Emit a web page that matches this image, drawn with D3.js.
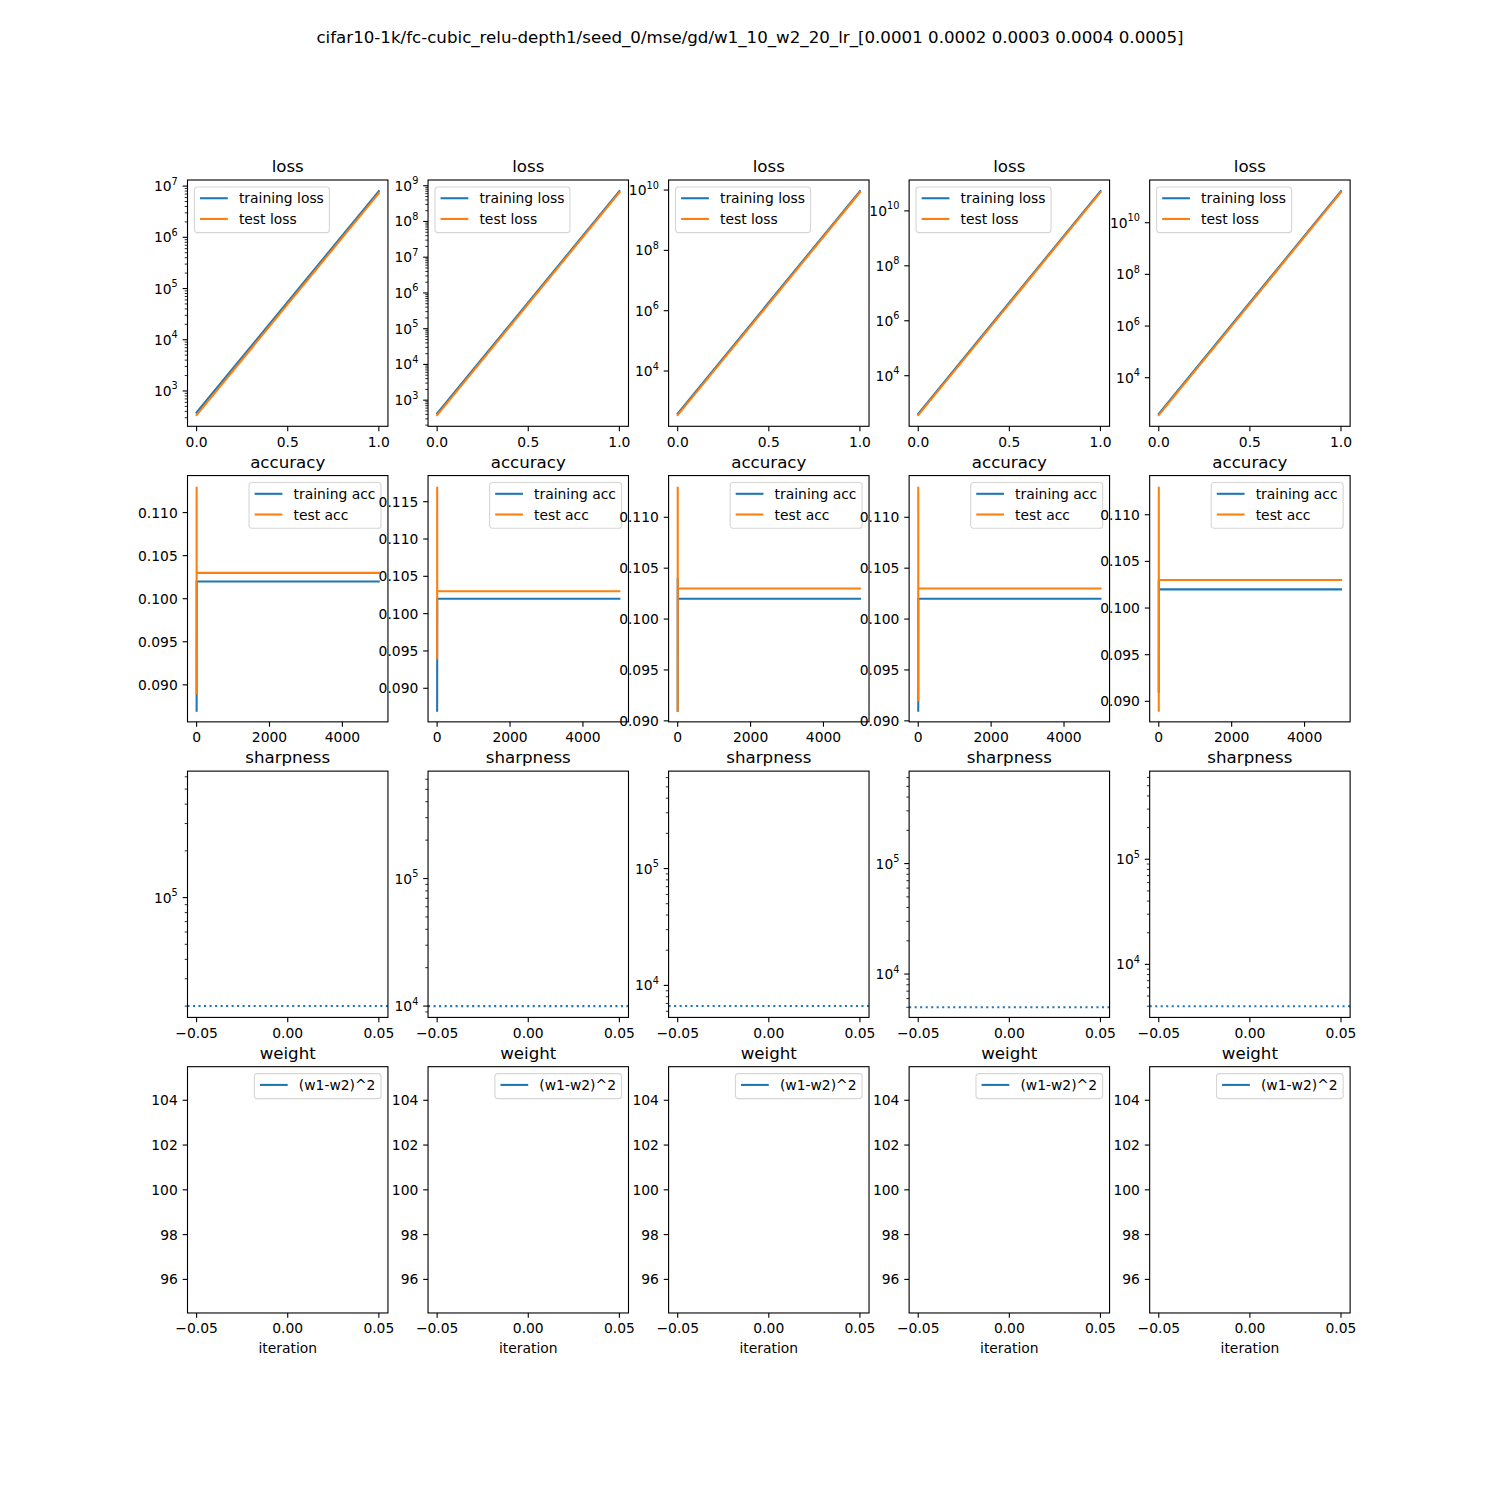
<!DOCTYPE html>
<html><head><meta charset="utf-8">
<script src="https://cdn.jsdelivr.net/npm/d3@7"></script>
<style>
body{margin:0;background:#fff}
svg{display:block}
text{font-family:"DejaVu Sans",sans-serif;fill:#000}
</style>
</head><body>
<svg id="c" width="1500" height="1500"></svg>
<script>
// ---------------- data ----------------
const suptitle = "cifar10-1k/fc-cubic_relu-depth1/seed_0/mse/gd/w1_10_w2_20_lr_[0.0001 0.0002 0.0003 0.0004 0.0005]";
const learningRates = [0.0001, 0.0002, 0.0003, 0.0004, 0.0005];

const lossIter = [0, 1];
const trainLoss = [[380, 7.95e6], [425, 7.03e8], [385, 9.16e9], [410, 5.2e10], [400, 1.66e11]];
const testLoss  = [[338, 7.3e6],  [382, 6.5e8],  [345, 8.4e9],  [368, 4.8e10], [357, 1.53e11]];

const accIter = [0, 1, 2, 5000];
const trainAcc = [
  [0.087, 0.089, 0.102, 0.102],
  [0.087, 0.094, 0.102, 0.102],
  [0.091, 0.104, 0.102, 0.102],
  [0.091, 0.092, 0.102, 0.102],
  [0.091, 0.103, 0.102, 0.102]
];
const testAcc = [
  [0.089, 0.113, 0.103, 0.103],
  [0.094, 0.117, 0.103, 0.103],
  [0.091, 0.113, 0.103, 0.103],
  [0.092, 0.113, 0.103, 0.103],
  [0.089, 0.113, 0.103, 0.103]
];

const sharpnessThreshold = [20000, 10000, 6667, 5000, 4000];   // 2 / lr
const sharpnessLimits = [[16900, 6.53e5], [8150, 6.95e5], [5320, 6.82e5], [4050, 6.87e5], [3130, 6.89e5]];

const weightIter = [0];
const weightDist = [[100], [100], [100], [100], [100]];

const rowTitles = ["loss", "accuracy", "sharpness", "weight"];
const lossLabels = ["training loss", "test loss"];
const accLabels = ["training acc", "test acc"];
const weightLabels = ["(w1-w2)^2"];
const xLabel = "iteration";

// ---------------- layout ----------------
const BLUE = "#1f77b4", ORANGE = "#ff7f0e";
const FS = 13.89, TFS = 16.67;
const axW = 200.45, axGap = 40.09, axL0 = 187.5;
const axH = 246.3, axVGap = 49.26, axT0 = 180;
const MAJ = 4.86, MIN = 2.78, PAD = 4.86;

const svg = d3.select("#c");
svg.append("rect").attr("width", 1500).attr("height", 1500).attr("fill", "#fff");

svg.append("text").attr("x", 750).attr("y", 42.5).attr("text-anchor", "middle")
  .attr("font-size", TFS).text(suptitle);

const fmtMinus = s => s.replace(/^-/, "\u2212");

function logTicks(domain) {
  const lmin = Math.log10(domain[0]), lmax = Math.log10(domain[1]);
  const numdec = Math.floor(lmax) - Math.ceil(lmin);
  const stride = Math.max(Math.ceil(numdec / 6), 1);
  const major = [], minor = [];
  for (let e = Math.floor(lmin) - 1; e <= Math.ceil(lmax) + 1; e++) {
    if (e % stride === 0 && e >= lmin - 1e-9 && e <= lmax + 1e-9) major.push(e);
    if (stride === 1) {
      for (let s = 2; s <= 9; s++) {
        const v = s * Math.pow(10, e);
        if (v >= domain[0] && v <= domain[1]) minor.push(v);
      }
    }
  }
  return {major, minor};
}

let clipId = 0;
function makeAxes(col, row) {
  const x0 = axL0 + col * (axW + axGap), y0 = axT0 + row * (axH + axVGap);
  const g = svg.append("g").attr("transform", `translate(${x0},${y0})`);
  const id = "clip" + (clipId++);
  g.append("clipPath").attr("id", id).append("rect").attr("width", axW).attr("height", axH);
  const plot = g.append("g").attr("clip-path", `url(#${id})`);
  return {g, plot, x0, y0};
}

function drawFrame(ax) {
  ax.g.append("rect").attr("width", axW).attr("height", axH)
    .attr("fill", "none").attr("stroke", "#000").attr("stroke-width", 1.11);
}

function xAxis(ax, scale, ticks, fmt) {
  ticks.forEach(t => {
    const x = scale(t);
    ax.g.append("line").attr("x1", x).attr("x2", x).attr("y1", axH).attr("y2", axH + MAJ)
      .attr("stroke", "#000").attr("stroke-width", 1.11);
    ax.g.append("text").attr("x", x).attr("y", axH + 20.3).attr("text-anchor", "middle")
      .attr("font-size", FS).text(fmtMinus(fmt(t)));
  });
}

function yAxisLinear(ax, scale, ticks, fmt) {
  ticks.forEach(t => {
    const y = scale(t);
    ax.g.append("line").attr("x1", 0).attr("x2", -MAJ).attr("y1", y).attr("y2", y)
      .attr("stroke", "#000").attr("stroke-width", 1.11);
    ax.g.append("text").attr("x", -MAJ - PAD).attr("y", y + 5).attr("text-anchor", "end")
      .attr("font-size", FS).text(fmtMinus(fmt(t)));
  });
}

function yAxisLog(ax, scale) {
  const {major, minor} = logTicks(scale.domain());
  minor.forEach(v => {
    const y = scale(v);
    ax.g.append("line").attr("x1", 0).attr("x2", -MIN).attr("y1", y).attr("y2", y)
      .attr("stroke", "#000").attr("stroke-width", 0.83);
  });
  major.forEach(e => {
    const y = scale(Math.pow(10, e));
    ax.g.append("line").attr("x1", 0).attr("x2", -MAJ).attr("y1", y).attr("y2", y)
      .attr("stroke", "#000").attr("stroke-width", 1.11);
    const t = ax.g.append("text").attr("x", -MAJ - PAD).attr("y", y + 5).attr("text-anchor", "end")
      .attr("font-size", FS);
    t.append("tspan").text("10");
    t.append("tspan").attr("font-size", FS * 0.7).attr("dy", -6.5).text(String(e));
  });
}

function title(ax, s) {
  ax.g.append("text").attr("x", axW / 2).attr("y", -7.8).attr("text-anchor", "middle")
    .attr("font-size", TFS).text(s);
}

function legend(ax, labels, colors, where) {
  const em = FS, bpad = 0.4 * em, hl = 2.0 * em, htp = 0.8 * em, bap = 0.5 * em;
  const lg = ax.g.append("g");
  const tmp = labels.map(l => lg.append("text").attr("font-size", FS).text(l));
  const tw = d3.max(tmp, t => t.node().getComputedTextLength());
  tmp.forEach(t => t.remove());
  const w = bpad + hl + htp + tw + bpad;
  const h = 25 + 20.7 * (labels.length - 1);
  const lx = where === "left" ? bap : axW - bap - w;
  const ly = bap;
  lg.attr("transform", `translate(${lx},${ly})`);
  lg.append("rect").attr("x", 0).attr("y", 0).attr("width", w).attr("height", h)
    .attr("rx", 2.8).attr("ry", 2.8)
    .attr("fill", "rgba(255,255,255,0.8)").attr("stroke", "rgba(204,204,204,0.8)").attr("stroke-width", 1.11);
  labels.forEach((l, i) => {
    const cy = 11.3 + 20.7 * i;
    lg.append("line").attr("x1", bpad).attr("x2", bpad + hl).attr("y1", cy).attr("y2", cy)
      .attr("stroke", colors[i]).attr("stroke-width", 2.08);
    lg.append("text").attr("x", bpad + hl + htp).attr("y", cy + 5).attr("font-size", FS).text(l);
  });
}

function padLinear(lo, hi) { const d = hi - lo; return [lo - 0.05 * d, hi + 0.05 * d]; }
function padLog(lo, hi) {
  const a = Math.log10(lo), b = Math.log10(hi), d = b - a;
  return [Math.pow(10, a - 0.05 * d), Math.pow(10, b + 0.05 * d)];
}

learningRates.forEach((lr, c) => {
  // ---- loss ----
  {
    const ax = makeAxes(c, 0);
    const x = d3.scaleLinear().domain(padLinear(d3.min(lossIter), d3.max(lossIter))).range([0, axW]);
    const all = trainLoss[c].concat(testLoss[c]);
    const y = d3.scaleLog().domain(padLog(d3.min(all), d3.max(all))).range([axH, 0]);
    const line = d3.line().x((d, i) => x(lossIter[i])).y(d => y(d));
    ax.plot.append("path").attr("d", line(trainLoss[c])).attr("fill", "none")
      .attr("stroke", BLUE).attr("stroke-width", 2.08).attr("stroke-linecap", "square");
    ax.plot.append("path").attr("d", line(testLoss[c])).attr("fill", "none")
      .attr("stroke", ORANGE).attr("stroke-width", 2.08).attr("stroke-linecap", "square");
    drawFrame(ax);
    xAxis(ax, x, [0, 0.5, 1.0], d3.format(".1f"));
    yAxisLog(ax, y);
    title(ax, rowTitles[0]);
    legend(ax, lossLabels, [BLUE, ORANGE], "left");
  }
  // ---- accuracy ----
  {
    const ax = makeAxes(c, 1);
    const x = d3.scaleLinear().domain(padLinear(d3.min(accIter), d3.max(accIter))).range([0, axW]);
    const all = trainAcc[c].concat(testAcc[c]);
    const y = d3.scaleLinear().domain(padLinear(d3.min(all), d3.max(all))).range([axH, 0]);
    const line = d3.line().x((d, i) => x(accIter[i])).y(d => y(d));
    ax.plot.append("path").attr("d", line(trainAcc[c])).attr("fill", "none")
      .attr("stroke", BLUE).attr("stroke-width", 2.08).attr("stroke-linecap", "square");
    ax.plot.append("path").attr("d", line(testAcc[c])).attr("fill", "none")
      .attr("stroke", ORANGE).attr("stroke-width", 2.08).attr("stroke-linecap", "square");
    drawFrame(ax);
    xAxis(ax, x, x.ticks(3), d3.format("d"));
    yAxisLinear(ax, y, y.ticks(6), d3.format(".3f"));
    title(ax, rowTitles[1]);
    legend(ax, accLabels, [BLUE, ORANGE], "right");
  }
  // ---- sharpness ----
  {
    const ax = makeAxes(c, 2);
    const x = d3.scaleLinear().domain([-0.055, 0.055]).range([0, axW]);
    const y = d3.scaleLog().domain(sharpnessLimits[c]).range([axH, 0]);
    const yy = y(sharpnessThreshold[c]);
    ax.plot.append("line").attr("x1", 0).attr("x2", axW).attr("y1", yy).attr("y2", yy)
      .attr("stroke", BLUE).attr("stroke-width", 2.08).attr("stroke-dasharray", "2.08,3.43");
    drawFrame(ax);
    xAxis(ax, x, x.ticks(3), d3.format(".2f"));
    yAxisLog(ax, y);
    title(ax, rowTitles[2]);
  }
  // ---- weight ----
  {
    const ax = makeAxes(c, 3);
    const x = d3.scaleLinear().domain([-0.055, 0.055]).range([0, axW]);
    const v = weightDist[c][0];
    const y = d3.scaleLinear().domain(padLinear(v * 0.95, v * 1.05)).range([axH, 0]);
    const line = d3.line().x((d, i) => x(weightIter[i])).y(d => y(d));
    ax.plot.append("path").attr("d", line(weightDist[c])).attr("fill", "none")
      .attr("stroke", BLUE).attr("stroke-width", 2.08);
    drawFrame(ax);
    xAxis(ax, x, x.ticks(3), d3.format(".2f"));
    yAxisLinear(ax, y, y.ticks(5), d3.format("d"));
    title(ax, rowTitles[3]);
    legend(ax, weightLabels, [BLUE], "right");
    ax.g.append("text").attr("x", axW / 2).attr("y", axH + 40.5).attr("text-anchor", "middle")
      .attr("font-size", FS).text(xLabel);
  }
});
</script>
</body></html>
